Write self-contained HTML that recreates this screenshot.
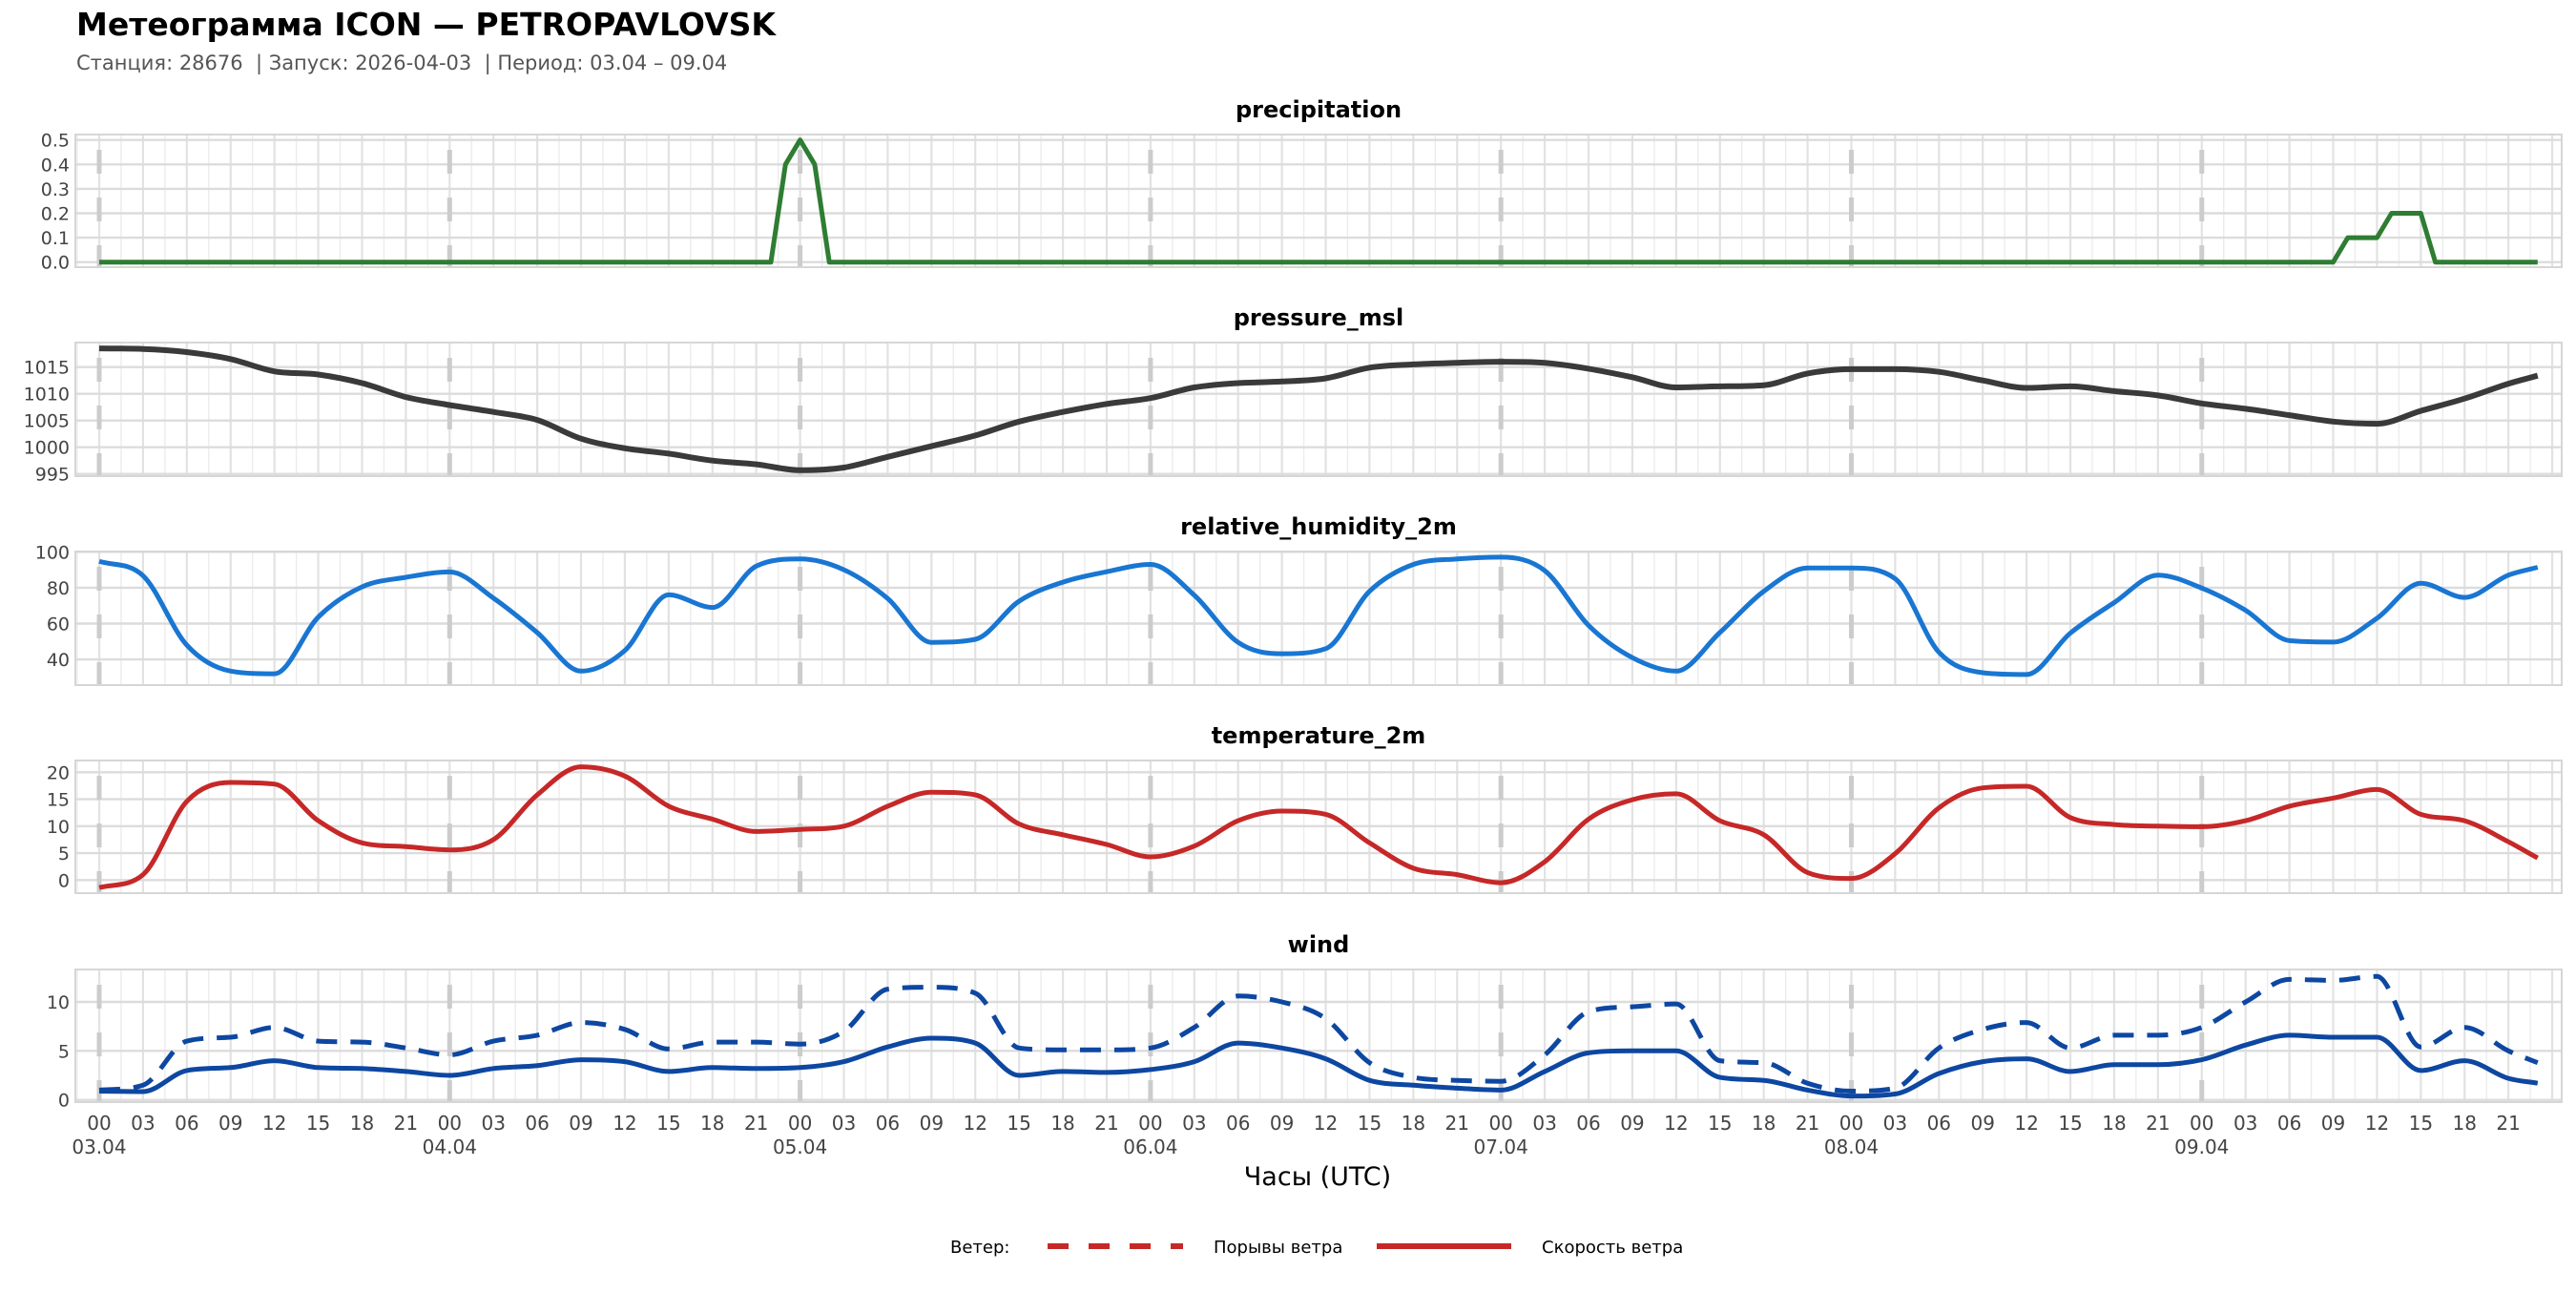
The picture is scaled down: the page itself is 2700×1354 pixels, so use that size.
<!DOCTYPE html>
<html lang="ru"><head><meta charset="utf-8">
<style>
html,body{margin:0;padding:0;background:#fff;}
body{width:2700px;height:1350px;overflow:hidden;font-family:"DejaVu Sans","Liberation Sans",sans-serif;}
svg text{font-family:"DejaVu Sans","Liberation Sans",sans-serif;white-space:pre;}
</style></head>
<body>
<svg id="chart" width="2700" height="1350" viewBox="0 0 2700 1350" xmlns="http://www.w3.org/2000/svg">
<text x="80" y="37" font-size="33" font-weight="bold" fill="#000">Метеограмма ICON — PETROPAVLOVSK</text>
<text x="80" y="73" font-size="21" fill="#555" xml:space="preserve">Станция: 28676  | Запуск: 2026-04-03  | Период: 03.04 – 09.04</text>
<text x="1381" y="1242" font-size="27" text-anchor="middle" fill="#000">Часы (UTC)</text>
<g>
<text x="996" y="1313" font-size="18" fill="#000">Ветер:</text>
<line x1="1098" y1="1306" x2="1240" y2="1306" stroke="#c62828" stroke-width="6" stroke-dasharray="22 21"/>
<text x="1272" y="1313" font-size="18" fill="#000">Порывы ветра</text>
<line x1="1443" y1="1306" x2="1584" y2="1306" stroke="#c62828" stroke-width="6"/>
<text x="1616" y="1313" font-size="18" fill="#000">Скорость ветра</text>
</g>
</svg>
<script>
const hours = [0,3,6,9,12,15,18,21,24,27,30,33,36,39,42,45,48,51,54,57,60,63,66,69,72,75,78,81,84,87,90,93,96,99,102,105,108,111,114,117,120,123,126,129,132,135,138,141,144,147,150,153,156,159,162,165,167];
const precipHours = [0,46,47,48,49,50,153,154,156,157,159,160,167];
const precipValues = [0,0,0.4,0.5,0.4,0,0,0.1,0.1,0.2,0.2,0,0];
const pressureValues = [1018.5,1018.4,1017.8,1016.5,1014.2,1013.6,1012,1009.4,1007.9,1006.6,1005.1,1001.6,999.8,998.8,997.5,996.8,995.7,996.2,998.2,1000.2,1002.2,1004.8,1006.6,1008.1,1009.2,1011.2,1012,1012.3,1012.9,1014.9,1015.5,1015.8,1016,1015.8,1014.7,1013.1,1011.2,1011.4,1011.6,1013.8,1014.6,1014.6,1014.1,1012.5,1011.1,1011.4,1010.5,1009.7,1008.2,1007.2,1006,1004.8,1004.4,1006.8,1009.1,1011.9,1013.4];
const humidityValues = [94.7,86.7,48,33.5,32,63.6,80.5,85.8,88.8,74.2,55,33.5,45,76,69,92,96,90,74,49.5,51.2,72.5,83.1,88.9,93,75.8,49.5,43.2,46,78,93,96,97,89.5,59,41,33.5,55,78,91,91,85,44,32.6,31.6,54.7,71.7,87,79.8,67.4,50.5,49.7,63,82.5,74.6,87,91.4];
const temperatureValues = [-1.4,1,14.6,18.1,17.8,11,6.9,6.2,5.6,7.5,15.8,21,19.3,13.7,11.3,9,9.4,10,13.7,16.3,15.8,10.4,8.4,6.6,4.3,6.3,11,12.8,12.2,6.9,2.2,1,-0.5,3.4,11.3,14.9,16,11,8.4,1.4,0.3,4.9,13.4,17.1,17.4,11.6,10.3,10,9.9,11,13.7,15.2,16.8,12.2,11,7.1,4.1];
const windSpeedValues = [0.9,0.85,3,3.3,4,3.3,3.2,2.9,2.5,3.2,3.5,4.1,3.9,2.9,3.3,3.2,3.3,3.9,5.4,6.3,5.8,2.5,2.9,2.8,3.1,3.9,5.8,5.3,4.2,2,1.5,1.2,1,2.9,4.8,5,5,2.3,2,1,0.4,0.6,2.7,3.9,4.2,2.9,3.6,3.6,4.1,5.6,6.6,6.4,6.4,3,4,2.2,1.7];
const windGustValues = [1,1.5,6,6.4,7.4,6,5.9,5.3,4.6,6,6.6,7.9,7.2,5.2,5.9,5.9,5.7,7,11.3,11.5,10.9,5.3,5.1,5.1,5.3,7.4,10.6,10,8.3,3.8,2.3,2,1.9,4.6,9,9.5,9.8,4,3.8,1.7,0.9,1.2,5.3,7.2,7.9,5.3,6.6,6.6,7.4,10,12.3,12.2,12.6,5.4,7.4,5,3.8];
const precipTicks = [0,0.1,0.2,0.3,0.4,0.5];
const pressureTicks = [995,1000,1005,1010,1015];
const humidityTicks = [40,60,80,100];
const temperatureTicks = [0,5,10,15,20];
const windTicks = [0,5,10];
const hourTickLabels = ["00","03","06","09","12","15","18","21"];
const dayLabels = ["03.04","04.04","05.04","06.04","07.04","08.04","09.04"];

const NS = "http://www.w3.org/2000/svg";
const svg = document.getElementById("chart");
const PL = 79, PR = 2685;
function x(h){ return 104 + h * 15.304; }
function mk(tag, attrs, parent){ const e = document.createElementNS(NS, tag); for (const k in attrs) e.setAttribute(k, attrs[k]); (parent||svg).appendChild(e); return e; }

function panel(name, title, top, bottom, v0, p0, v1, p1, ticks, fmt){
  const yf = v => p0 + (v - v0) * (p1 - p0) / (v1 - v0);
  const g = mk("g", {});
  
  
  const t = mk("text", {x: (PL+PR)/2, y: top - 18, "font-size": 24, "font-weight": "bold", "text-anchor": "middle", fill: "#000"}, g);
  t.textContent = title;
  
  
  for (let h = -1.5; h <= 170; h += 1.5) {
    const xx = x(h); if (xx < PL || xx > PR) continue;
    const major = Math.abs(h % 3) < 0.01;
    const l = mk("line", {x1: xx, x2: xx, y1: top, y2: bottom, stroke: major ? "#e2e2e2" : "#ececec", "stroke-width": major ? 2.2 : 1.4}, g);
    
    
  }
  ticks.forEach(v => {
    const l = mk("line", {x1: PL, x2: PR, y1: yf(v), y2: yf(v), stroke: "#dcdcdc", "stroke-width": 2.4}, g);
    
    
    const tx = mk("text", {x: 73, y: yf(v) + 7, "font-size": 19, "text-anchor": "end", fill: "#444"}, g);
    tx.textContent = fmt(v);
    
    
  });
  for (let d = 0; d < 7; d++) {
    const l = mk("line", {x1: x(d*24), x2: x(d*24), y1: top + 16, y2: bottom, stroke: "#cccccc", "stroke-width": 5, "stroke-dasharray": "25 25"}, g);
    
    
  }
  const r = mk("rect", {x: PL, y: top, width: PR - PL, height: bottom - top, fill: "none", stroke: "#d6d6d6", "stroke-width": 2}, g);
  
  
  return {g, yf};
}
// monotone cubic path
function monotonePath(px, py){
  const n = px.length;
  if (n < 3) return px.map((X,i)=>(i?"L":"M")+X+","+py[i]).join(" ");
  const d = [], m = new Array(n);
  for (let i = 0; i < n-1; i++) d.push((py[i+1]-py[i])/(px[i+1]-px[i]));
  m[0] = d[0]; m[n-1] = d[n-2];
  for (let i = 1; i < n-1; i++) m[i] = (d[i-1]*d[i] <= 0) ? 0 : (d[i-1]+d[i])/2;
  for (let i = 0; i < n-1; i++) {
    if (d[i] === 0) { m[i] = 0; m[i+1] = 0; continue; }
    const a = m[i]/d[i], b = m[i+1]/d[i], s = a*a + b*b;
    if (s > 9) { const t = 3/Math.sqrt(s); m[i] = t*a*d[i]; m[i+1] = t*b*d[i]; }
  }
  let p = "M" + px[0].toFixed(1) + "," + py[0].toFixed(1);
  for (let i = 0; i < n-1; i++) {
    const h = (px[i+1]-px[i])/3;
    p += " C" + (px[i]+h).toFixed(1) + "," + (py[i]+m[i]*h).toFixed(1) + " " + (px[i+1]-h).toFixed(1) + "," + (py[i+1]-m[i+1]*h).toFixed(1) + " " + px[i+1].toFixed(1) + "," + py[i+1].toFixed(1);
  }
  return p;
}
function series(p, hs, vs, color, w, dash, name, smooth){
  const px = hs.map(h => x(h)), py = vs.map(v => p.yf(v));
  const d = smooth ? monotonePath(px, py) : px.map((X,i)=>(i?"L":"M")+X.toFixed(1)+","+py[i].toFixed(1)).join(" ");
  const a = {d: d, fill: "none", stroke: color, "stroke-width": w, "stroke-linejoin": "round"};
  if (dash) a["stroke-dasharray"] = dash;
  const path = mk("path", a, p.g);
  
  
}

const pPrecip = panel("precipitation", "precipitation", 141, 280, 0, 274.7, 0.5, 146.7, precipTicks, v => v.toFixed(1));
series(pPrecip, precipHours, precipValues, "#2e7d32", 5, null, "precipitation-line", false);
const pPress = panel("pressure", "pressure_msl", 359, 499, 995, 496.7, 1015, 384.7, pressureTicks, v => String(v));
series(pPress, hours, pressureValues, "#3a3a3a", 6, null, "pressure-line", true);
const pRh = panel("humidity", "relative_humidity_2m", 578, 718, 40, 691.1, 100, 578.3, humidityTicks, v => String(v));
series(pRh, hours, humidityValues, "#1976d2", 5, null, "humidity-line", true);
const pTemp = panel("temperature", "temperature_2m", 797, 936, 0, 922.3, 20, 809.3, temperatureTicks, v => String(v));
series(pTemp, hours, temperatureValues, "#c62828", 5, null, "temperature-line", true);
const pWind = panel("wind", "wind", 1016, 1155, 0, 1152.7, 10, 1050, windTicks, v => String(v));
series(pWind, hours, windGustValues, "#0d47a1", 5, "22 14", "wind-gust-line", true);
series(pWind, hours, windSpeedValues, "#0d47a1", 5, null, "wind-speed-line", true);

for (let h = 0; h <= 165; h += 3) {
  const t = mk("text", {x: x(h), y: 1184, "font-size": 20, "text-anchor": "middle", fill: "#444"});
  t.textContent = hourTickLabels[(h / 3) % 8];
  
  
}
dayLabels.forEach((lab, i) => {
  const t = mk("text", {x: x(i * 24), y: 1209, "font-size": 20, "text-anchor": "middle", fill: "#444"});
  t.textContent = lab;
  
  
});
</script>
</body></html>
